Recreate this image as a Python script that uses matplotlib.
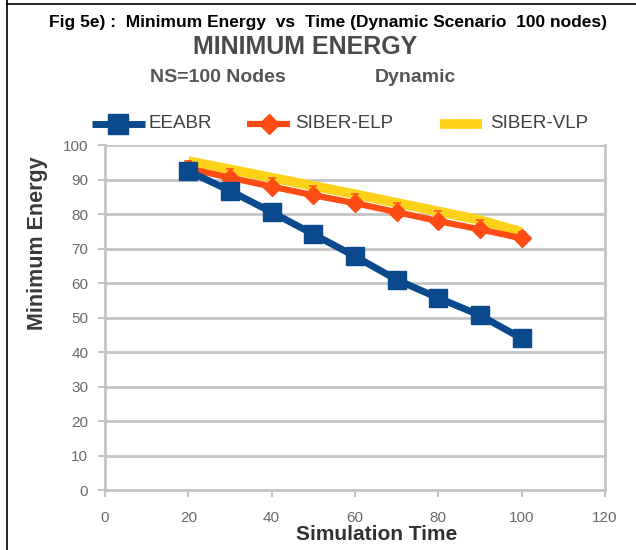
import numpy as np
import matplotlib.pyplot as plt
from matplotlib.lines import Line2D

plt.rcParams['font.family'] = ['Liberation Sans', 'DejaVu Sans']

# simulation time (s) and minimum residual energy for each protocol
sim_time = [20, 30, 40, 50, 60, 70, 80, 90, 100]
eeabr = [92.5, 86.8, 80.6, 74.2, 67.8, 61.0, 55.7, 50.7, 44.0]
siber_elp = [93.2, 90.6, 88.0, 85.5, 83.2, 80.6, 78.0, 75.6, 73.0]
siber_vlp = [95.4, 93.0, 90.6, 88.2, 85.8, 83.3, 80.8, 78.3, 74.8]

x_ticks = [0, 20, 40, 60, 80, 100, 120]
y_ticks = [0, 10, 20, 30, 40, 50, 60, 70, 80, 90, 100]

W, H = 636, 550
fig = plt.figure(figsize=(W / 100, H / 100), dpi=100)
ax = fig.add_axes([0.165, 0.109, 0.786, 0.627])

grid_c = '#c4c4c4'
tick_c = '#6a6a6a'
blue, red, yellow = '#0a4a8c', '#ff4b14', '#ffd21a'

ax.plot(sim_time, siber_vlp, color=yellow, lw=7, solid_capstyle='butt',
        marker='_', ms=6, mec='#ff5a1a', mew=1.2, zorder=3)
ax.plot(sim_time, siber_elp, color=red, lw=4.5, marker='D', ms=9,
        mfc=red, mec=red, zorder=4)
ax.plot(sim_time, eeabr, color=blue, lw=5, marker='s', ms=13,
        mfc=blue, mec=blue, zorder=5)

ax.set_xlim(0, 120)
ax.set_ylim(0, 100)
ax.set_xticks(x_ticks)
ax.set_yticks(y_ticks)
ax.yaxis.grid(True, color=grid_c, lw=2)
ax.set_axisbelow(True)
for side in ['left', 'right', 'bottom']:
    ax.spines[side].set_color(grid_c)
    ax.spines[side].set_linewidth(2)
ax.spines['top'].set_visible(False)
ax.tick_params(axis='y', length=5, width=1.5, color=grid_c, labelcolor=tick_c,
               labelsize=11, pad=7)
ax.tick_params(axis='x', length=5, width=1.5, color=grid_c, labelcolor=tick_c,
               labelsize=11, pad=10)

# legend row: (handle start px, handle end px, text px, label, style)
legend_y = 1 - 124 / H
entries = [
    (92, 145, 148, 'EEABR', dict(color=blue, lw=5, marker='s', ms=14)),
    (247, 290, 295, 'SIBER-ELP', dict(color=red, lw=4.5, marker='D', ms=10)),
    (440, 482, 490, 'SIBER-VLP', dict(color=yellow, lw=7)),
]
for x0, x1, xt, name, style in entries:
    xs = [x0 / W, (x0 + x1) / 2 / W, x1 / W]
    fig.add_artist(Line2D(xs, [legend_y] * 3, markevery=[1],
                          solid_capstyle='butt', transform=fig.transFigure,
                          **style))
    fig.text(xt / W, legend_y, name, ha='left', va='center', fontsize=13.5,
             color='#404040')

fig.text(0.515, 1 - 22 / H, 'Fig 5e) :  Minimum Energy  vs  Time (Dynamic Scenario  100 nodes)',
         ha='center', va='center', fontsize=12.5, fontweight='bold', color='black')
fig.text(0.48, 1 - 47 / H, 'MINIMUM ENERGY', ha='center', va='center',
         fontsize=18, fontweight='bold', color='#4a4a4a')
fig.text(150 / W, 1 - 78 / H, 'NS=100 Nodes', ha='left', va='center',
         fontsize=14, fontweight='bold', color='#555555')
fig.text(375 / W, 1 - 78 / H, 'Dynamic', ha='left', va='center',
         fontsize=14, fontweight='bold', color='#555555')
fig.text(38 / W, 1 - 243 / H, 'Minimum Energy', rotation=90, ha='center',
         va='center', fontsize=15.5, fontweight='bold', color='#3a3a3a')
fig.text(377 / W, 1 - 535 / H, 'Simulation Time', ha='center', va='center',
         fontsize=15, fontweight='bold', color='#303030')

# outer frame lines
fig.add_artist(Line2D([0.011, 1.0], [0.993, 0.993], color='black', lw=1.2,
                      transform=fig.transFigure))
fig.add_artist(Line2D([0.011, 0.011], [0.0, 1.0], color='black', lw=1.2,
                      transform=fig.transFigure))

fig.savefig('out.png', dpi=100)
